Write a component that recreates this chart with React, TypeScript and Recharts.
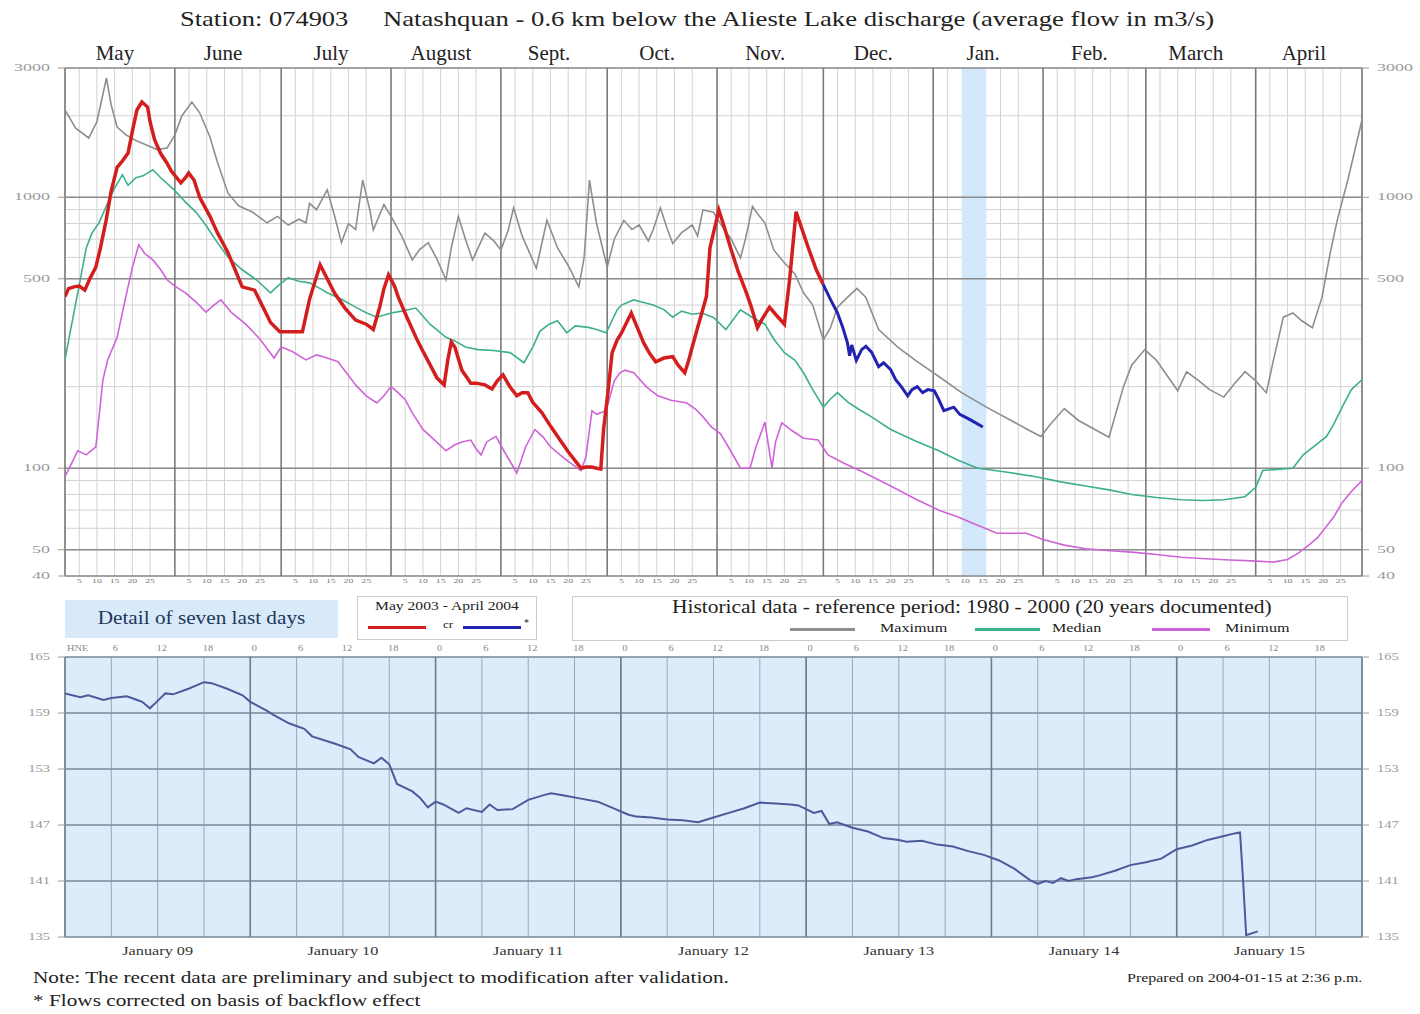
import {
  ComposedChart,
  Line,
  XAxis,
  YAxis,
  CartesianGrid,
  ReferenceLine,
  ReferenceArea,
} from "recharts";

const SERIF = '"Liberation Serif", "DejaVu Serif", serif';

// calendar, May 2003 - April 2004
const monthNames = ["May", "June", "July", "August", "Sept.", "Oct.", "Nov.", "Dec.", "Jan.", "Feb.", "March", "April"];
const monthDays = [31, 30, 31, 31, 30, 31, 30, 31, 31, 29, 31, 30];
const subDays = [5, 10, 15, 20, 25];

const flowTicks = [40, 50, 60, 70, 80, 90, 100, 200, 300, 400, 500, 600, 700, 800, 900, 1000, 2000, 3000];
const flowLabels = [40, 50, 100, 500, 1000, 3000];
const heavyFlows = [50, 100, 500, 1000];

// [day since May 1, flow m3/s]
const maxFlow: [number, number][] = [
  [0, 2100], [3, 1800], [6.7, 1656], [9, 1900], [11.7, 2755], [13, 2200], [14.7, 1817], [17.2, 1700],
  [20, 1620], [23, 1560], [26, 1500], [28.8, 1521], [31, 1700], [33, 2000], [35.8, 2247], [38, 2050],
  [40.9, 1670], [43, 1350], [46, 1035], [49, 930], [53, 880], [57, 805], [60, 850], [63, 790], [66, 830],
  [68, 805], [69, 950], [71, 900], [74, 1065], [76, 860], [78, 680], [80, 800], [82, 760], [84, 1158],
  [86, 900], [87, 757], [90, 940], [92, 850], [95, 720], [98, 587], [100, 640], [102.5, 680], [105, 590],
  [107.5, 496], [109, 650], [111, 850], [113, 700], [115, 587], [118.5, 737], [121, 690], [123, 639],
  [125, 750], [126.6, 914], [129, 720], [133, 547], [136, 822], [139, 650], [142, 560], [145, 467],
  [146.5, 600], [148, 1158], [150, 800], [153, 552], [155, 700], [157.7, 822], [160, 760], [162, 790],
  [164.6, 690], [166, 760], [168, 914], [170, 760], [171.5, 675], [174, 740], [177, 790], [178.5, 720],
  [180, 897], [183, 880], [186, 760], [188, 700], [190.6, 597], [192, 700], [194, 925], [196, 850],
  [197.5, 805], [200, 639], [203, 573], [206, 520], [208.4, 444], [211, 400], [214, 297], [216, 330],
  [218, 393], [221, 430], [223.5, 461], [226, 427], [229.6, 325], [235, 280], [240, 250], [246.6, 218],
  [253, 190], [260, 168], [267, 150], [272, 138], [275.4, 131], [278, 145], [282, 166], [286, 150],
  [291, 138], [294.6, 130], [298.7, 200], [301, 240], [304.7, 274], [308, 250], [311, 220], [314, 193],
  [316.5, 227], [320, 210], [323, 195], [327, 183], [330, 205], [333, 227], [336, 210], [339, 190],
  [341, 250], [343.8, 361], [346.5, 374], [349, 350], [352, 330], [354.7, 427], [357, 620], [359, 822],
  [362, 1158], [366, 1929],
];

const medianFlow: [number, number][] = [
  [0, 251], [1.5, 320], [2.5, 374], [4.5, 512], [6, 650], [7.6, 737], [9.6, 805], [12, 950], [13.7, 1065],
  [16.2, 1210], [17.8, 1107], [20, 1180], [22, 1200], [24.8, 1264], [27, 1180], [30.8, 1065], [34, 960],
  [37, 880], [40, 780], [43, 680], [46, 602], [50, 540], [54, 496], [58, 444], [60, 470], [63, 505],
  [66, 490], [69, 483], [72, 460], [74, 444], [78, 420], [82, 393], [85, 375], [88, 361], [92, 374],
  [95, 380], [99, 390], [103, 340], [107.5, 304], [110, 295], [113, 280], [116.5, 274], [121, 272],
  [125.6, 267], [129.5, 245], [132, 280], [134, 320], [136.6, 340], [139, 350], [141.6, 316], [144, 335],
  [147.7, 331], [150, 325], [152.7, 316], [155.8, 384], [157, 400], [160.5, 418], [163, 410], [166, 400],
  [169, 385], [171.5, 361], [174, 380], [177, 370], [179.7, 374], [183, 360], [186.5, 325], [190.6, 384],
  [194, 360], [197.5, 340], [200, 300], [203, 267], [206, 250], [208.4, 225], [211, 195], [214, 168],
  [216, 180], [218, 190], [221, 175], [224, 165], [227.5, 155], [233, 139], [240, 126], [246.6, 116],
  [252, 107], [257.6, 100], [265, 97], [274, 93], [281, 89], [288, 86], [295, 83], [301, 80], [308, 78],
  [315, 76.5], [321, 76], [327, 76.5], [333, 78.5], [336, 85], [338, 98], [342, 99], [346.5, 100],
  [349.4, 112], [353, 122], [356, 131], [358, 145], [360.4, 168], [363, 195], [366, 212],
];

const minFlow: [number, number][] = [
  [0, 93], [2, 105], [3.6, 116], [6, 112], [8.7, 120], [10.7, 212], [12, 250], [14.7, 304], [17, 420],
  [19, 550], [20.8, 667], [22.5, 620], [24.8, 587], [27, 540], [28.8, 496], [31, 470], [34, 444], [37, 410],
  [39.8, 377], [42, 400], [44, 418], [47, 375], [51, 340], [55, 300], [59, 255], [61, 280], [64, 270],
  [68, 251], [71, 262], [74, 255], [77, 247], [80, 220], [82, 203], [85, 185], [88, 174], [90, 185],
  [92, 200], [94, 190], [96, 179], [98, 160], [101, 139], [104, 128], [107.5, 116], [110, 122], [112, 125],
  [114.5, 127], [116, 118], [117.4, 112], [119, 125], [121.6, 131], [124, 115], [127.5, 96], [130, 120],
  [132.6, 139], [135, 130], [137, 120], [139.7, 112], [142, 106], [145.6, 98], [147, 110], [148.7, 163],
  [150, 158], [152.7, 163], [155, 210], [156.6, 225], [158, 230], [160.5, 225], [164, 200], [167.3, 185],
  [171, 178], [175.5, 174], [178, 165], [180, 155], [182.4, 142], [185, 134], [188, 115], [190.6, 100],
  [193.3, 100], [195, 120], [197.5, 148], [199.5, 100], [200.5, 125], [202.3, 147], [205, 138],
  [208.4, 129], [212.5, 127], [215.3, 112], [220, 104], [225, 97], [233, 86], [240, 77], [246.6, 70],
  [252, 66], [257, 62], [263, 57.5], [268, 57.5], [271.3, 57.5], [276, 54.5], [282, 52], [288, 50.4],
  [295, 49.6], [301, 49], [308, 48], [315, 46.9], [322, 46.3], [328.7, 45.8], [335, 45.5], [341, 45],
  [345, 46], [348, 48.6], [351, 52], [353.5, 55.5], [356, 61], [358, 66], [360.4, 74.6], [363, 82], [366, 90],
];

const flow0304: [number, number][] = [
  [0, 430], [1, 460], [2.5, 467], [4, 470], [5.6, 454], [7, 500], [8.7, 552], [10, 650], [11.6, 822],
  [13, 1050], [14.7, 1290], [16, 1350], [17.8, 1456], [19, 1750], [20.3, 2100], [21.7, 2247], [23.3, 2153],
  [24, 1900], [25.3, 1627], [27, 1450], [28.8, 1336], [30, 1250], [32.7, 1130], [34, 1180], [34.9, 1228],
  [36.4, 1158], [38, 1000], [40.9, 850], [43, 740], [46, 624], [48, 540], [50, 467], [53.5, 454], [56, 390],
  [58, 345], [60.6, 319], [64, 319], [67, 319], [69, 420], [72, 563], [74, 500], [76, 444], [79, 390],
  [82, 352], [85, 340], [87, 325], [88.8, 393], [90, 460], [91.3, 517], [93, 470], [94, 430], [96.5, 360],
  [99.4, 297], [101, 270], [103.3, 237], [105, 215], [107, 203], [108, 250], [109, 292], [110, 280],
  [112, 230], [114.5, 206], [116, 206], [118.5, 203], [120.5, 196], [122, 210], [123.6, 221], [125.5, 200],
  [127.5, 185], [129, 190], [130.6, 190], [132, 175], [134.6, 160], [137, 143], [139.7, 127], [142, 115],
  [145.6, 100], [147, 101], [148.7, 101], [150, 100], [151.2, 99.4], [152, 140], [153.2, 190], [154.4, 267],
  [155.8, 297], [157, 315], [159.8, 374], [161.5, 330], [163.3, 290], [165, 265], [166.7, 247], [169, 255],
  [171.5, 258], [173, 240], [174.9, 225], [176, 250], [177, 280], [178.5, 330], [179.7, 374], [181, 430],
  [182, 650], [184.5, 897], [186, 780], [188, 639], [190, 530], [192, 454], [193.5, 400], [195.4, 330],
  [197, 360], [198.8, 393], [200.5, 370], [203, 340], [204.5, 500], [206.3, 884], [208, 760], [209.7, 654],
  [212, 540], [213.9, 478],
];

const flowCorrected: [number, number][] = [
  [213.9, 478], [216, 420], [218, 374], [219.5, 330], [220.8, 290], [221.4, 260], [222, 285], [223.3, 250],
  [224.8, 274], [226, 282], [227.6, 268], [229.6, 237], [231, 245], [233, 231], [234.4, 212], [236, 200],
  [237.8, 185], [239, 195], [240.5, 200], [242, 190], [243.5, 195], [245.3, 193], [246.5, 180], [248, 163],
  [250.8, 168], [252.5, 158], [255, 152], [257, 147], [259, 142],
];

// detail, hours since January 9 00:00
const detailFlow: [number, number][] = [
  [0, 161.1], [2, 160.7], [3, 160.9], [5, 160.4], [6, 160.6], [8, 160.8], [9, 160.5], [10, 160.2], [11, 159.5],
  [12, 160.3], [13, 161.1], [14, 161.0], [16, 161.6], [18, 162.3], [19, 162.2], [21, 161.6], [23, 160.9],
  [24, 160.2], [26, 159.3], [27, 158.8], [29, 157.9], [31, 157.3], [32, 156.5], [35, 155.7], [37, 155.1],
  [38, 154.3], [40, 153.6], [41, 154.2], [42, 153.5], [43, 151.4], [45, 150.6], [46, 149.9], [47, 148.9],
  [48, 149.5], [49, 149.2], [51, 148.3], [52, 148.8], [54, 148.4], [55, 149.2], [56, 148.6], [58, 148.7],
  [60, 149.7], [62, 150.2], [63, 150.4], [65, 150.1], [67, 149.8], [69, 149.5], [71, 148.8], [73, 148.1],
  [74, 147.9], [76, 147.8], [78, 147.6], [80, 147.5], [82, 147.3], [84, 147.8], [86, 148.3], [88, 148.8],
  [90, 149.4], [92, 149.3], [94, 149.2], [95, 149.1], [96, 148.7], [97, 148.3], [98, 148.5], [99, 147.1],
  [100, 147.3], [102, 146.7], [104, 146.3], [106, 145.6], [108, 145.4], [109, 145.2], [111, 145.3],
  [113, 144.9], [115, 144.7], [117, 144.2], [119, 143.8], [121, 143.2], [123, 142.3], [125, 141.1],
  [126, 140.7], [127, 141.0], [128, 140.8], [129, 141.3], [130, 141.0], [131, 141.2], [133, 141.4],
  [134, 141.6], [136, 142.1], [138, 142.7], [140, 143.0], [142, 143.4], [144, 144.4], [146, 144.8],
  [148, 145.4], [150, 145.8], [151.5, 146.1], [152.2, 146.2], [152.6, 141], [153, 135.2], [154.5, 135.6],
];
const detailTicks = [135, 141, 147, 153, 159, 165];
const detailDays = ["January 09", "January 10", "January 11", "January 12", "January 13", "January 14", "January 15"];

const toPts = (arr: [number, number][]) => arr.map(([d, q]) => ({ d, q }));

const monthStarts = monthDays.reduce<number[]>((acc, n, i) => [...acc, acc[i] + n], [0]);
const totalDays = monthStarts[monthStarts.length - 1];
const monthMids = monthDays.map((n, i) => monthStarts[i] + n / 2);
const subTicks = monthStarts.slice(0, -1).flatMap((s) => subDays.map((k) => s + k - 1));
const hourTicks = Array.from({ length: 29 }, (_, i) => i * 6);
const dayBounds = Array.from({ length: 8 }, (_, i) => i * 24);
const dayMids = detailDays.map((_, i) => i * 24 + 12);

// the original's lettering is wider than Liberation Serif, so texts get stretched sideways
const wide = (x: number, y: number, k: number) => `translate(${x},${y}) scale(${k},1)`;

const sideTick = (right: boolean) => (p: any) => {
  const v = p.payload.value;
  const isFlow = flowLabels.includes(v);
  if (!isFlow && !detailTicks.includes(v)) return <g />;
  const k = v >= 135 && v <= 165 && !isFlow ? 1.45 : 1.8;
  return (
    <g>
      <line x1={right ? p.x - 8 : p.x + 1} x2={right ? p.x - 1 : p.x + 8} y1={p.y} y2={p.y} stroke="#9a9a9a" />
      <text transform={wide(right ? p.x + 7 : p.x - 7, p.y + 3, k)} textAnchor={right ? "start" : "end"}
        fontSize={10} fill="#9a9a9a" fontFamily={SERIF}>
        {v}
      </text>
    </g>
  );
};
const LeftTick = sideTick(false);
const RightTick = sideTick(true);

const MonthTick = (p: any) => {
  const i = monthMids.indexOf(p.payload.value);
  return (
    <text x={p.x - 5} y={p.y} textAnchor="middle" fontSize={21} fill="#222" fontFamily={SERIF}>
      {monthNames[i]}
    </text>
  );
};

const DayNumTick = (p: any) => {
  const d = p.payload.value;
  const m = monthStarts.filter((s) => s <= d).pop() ?? 0;
  return (
    <text transform={wide(p.x, p.y - 1, 1.4)} textAnchor="middle" fontSize={7} fill="#777" fontFamily={SERIF}>
      {d - m + 1}
    </text>
  );
};

const HourTick = (p: any) => {
  const h = p.payload.value;
  if (h >= 168) return <g />;
  return (
    <text transform={wide(h === 0 ? p.x + 2 : p.x + 4, p.y + 2, 1.3)} textAnchor={h === 0 ? "start" : "middle"}
      fontSize={8} fill="#888" fontFamily={SERIF}>
      {h === 0 ? "HNE" : h % 24}
    </text>
  );
};

const DayTick = (p: any) => {
  const i = dayMids.indexOf(p.payload.value);
  return (
    <text transform={wide(p.x, p.y + 10, 1.25)} textAnchor="middle" fontSize={13} fill="#333" fontFamily={SERIF}>
      {detailDays[i]}
    </text>
  );
};

function Txt({ left, top, size, k, children, origin = "left", style = {} }: any) {
  return (
    <div
      style={{
        position: "absolute",
        left,
        top,
        whiteSpace: "nowrap",
        fontFamily: SERIF,
        fontSize: size,
        color: "#222",
        transform: `scaleX(${k})`,
        transformOrigin: origin,
        ...style,
      }}
    >
      {children}
    </div>
  );
}

function Swatch({ left, top, w, color }: { left: number; top: number; w: number; color: string }) {
  return <div style={{ position: "absolute", left, top, width: w, height: 3, background: color }} />;
}

export default function App() {
  return (
    <div style={{ position: "absolute", left: 0, top: 0, width: 1420, height: 1014, background: "#fff", fontFamily: SERIF }}>
      <Txt left={180} top={7} size={21} k={1.26}>Station: 074903</Txt>
      <Txt left={383} top={7} size={21} k={1.27}>
        Natashquan - 0.6 km below the Alieste Lake discharge (average flow in m3/s)
      </Txt>

      <div style={{ position: "absolute", left: 0, top: 0 }}>
        <ComposedChart width={1420} height={600} margin={{ top: 38, right: 0, bottom: 0, left: 0 }}>
          <XAxis xAxisId="b" type="number" dataKey="d" domain={[0, totalDays]} ticks={subTicks} interval={0}
            tick={DayNumTick} tickLine={false} axisLine={false} height={24} allowDataOverflow />
          <XAxis xAxisId="t" orientation="top" type="number" dataKey="d" domain={[0, totalDays]} ticks={monthMids}
            interval={0} tick={MonthTick} tickLine={false} axisLine={false} height={30} allowDataOverflow />
          <YAxis yAxisId="l" scale="log" domain={[40, 3000]} ticks={flowTicks} interval={0} allowDataOverflow
            width={65} tick={LeftTick} tickLine={false} axisLine={false} />
          <YAxis yAxisId="r" orientation="right" scale="log" domain={[40, 3000]} ticks={flowTicks} interval={0}
            allowDataOverflow width={58} tick={RightTick} tickLine={false} axisLine={false} />
          <CartesianGrid xAxisId="b" yAxisId="l" stroke="#d2d2d2" strokeWidth={1} />
          <ReferenceArea xAxisId="b" yAxisId="l" x1={253} x2={260} y1={40} y2={3000} fill="#d3e8fb" fillOpacity={1} stroke="none" />
          {heavyFlows.map((v) => (
            <ReferenceLine key={"h" + v} xAxisId="b" yAxisId="l" y={v} stroke="#8c8c8c" strokeWidth={1.6} />
          ))}
          {[40, 3000].map((v) => (
            <ReferenceLine key={"e" + v} xAxisId="b" yAxisId="l" y={v} stroke="#8c8c8c" strokeWidth={1.6} />
          ))}
          {monthStarts.map((s) => (
            <ReferenceLine key={"m" + s} xAxisId="b" yAxisId="l" x={s} stroke="#7a7a7a" strokeWidth={1.6} />
          ))}
          <Line xAxisId="b" yAxisId="l" data={toPts(maxFlow)} dataKey="q" type="linear" stroke="#8e8e8e" strokeWidth={1.6} dot={false} isAnimationActive={false} />
          <Line xAxisId="b" yAxisId="l" data={toPts(medianFlow)} dataKey="q" type="linear" stroke="#3daf8a" strokeWidth={1.6} dot={false} isAnimationActive={false} />
          <Line xAxisId="b" yAxisId="l" data={toPts(minFlow)} dataKey="q" type="linear" stroke="#cf63d8" strokeWidth={1.6} dot={false} isAnimationActive={false} />
          <Line xAxisId="b" yAxisId="l" data={toPts(flow0304)} dataKey="q" type="linear" stroke="#d41e1e" strokeWidth={3.5} dot={false} isAnimationActive={false} />
          <Line xAxisId="b" yAxisId="l" data={toPts(flowCorrected)} dataKey="q" type="linear" stroke="#2222b0" strokeWidth={3} dot={false} isAnimationActive={false} />
        </ComposedChart>
      </div>

      {/* legend row */}
      <div style={{ position: "absolute", left: 65, top: 600, width: 273, height: 38, background: "#d8eafa" }} />
      <Txt left={65} top={608} size={18} k={1.18} origin="center" style={{ width: 273, textAlign: "center", color: "#22375a" }}>
        Detail of seven last days
      </Txt>

      <div style={{ position: "absolute", left: 357, top: 596, width: 180, height: 44, border: "1px solid #ccc", boxSizing: "border-box" }} />
      <Txt left={357} top={599} size={12} k={1.3} origin="center" style={{ width: 180, textAlign: "center" }}>
        May 2003 - April 2004
      </Txt>
      <Swatch left={368} top={626} w={58} color="#d41e1e" />
      <Txt left={443} top={619} size={10} k={1.3}>cr</Txt>
      <Swatch left={463} top={626} w={58} color="#2222b0" />
      <Txt left={524} top={617} size={10} k={1}>*</Txt>

      <div style={{ position: "absolute", left: 572, top: 596, width: 776, height: 45, border: "1px solid #ccc", boxSizing: "border-box" }} />
      <Txt left={672} top={597} size={18} k={1.19}>
        Historical data - reference period: 1980 - 2000 (20 years documented)
      </Txt>
      <Swatch left={790} top={628} w={65} color="#8e8e8e" />
      <Txt left={880} top={620} size={13} k={1.24}>Maximum</Txt>
      <Swatch left={975} top={628} w={65} color="#3daf8a" />
      <Txt left={1052} top={620} size={13} k={1.24}>Median</Txt>
      <Swatch left={1152} top={628} w={58} color="#cf63d8" />
      <Txt left={1225} top={620} size={13} k={1.24}>Minimum</Txt>

      <div style={{ position: "absolute", left: 0, top: 627 }}>
        <ComposedChart width={1420} height={338} margin={{ top: 10, right: 0, bottom: 0, left: 0 }}>
          <XAxis xAxisId="t" orientation="top" type="number" dataKey="d" domain={[0, 168]} ticks={hourTicks}
            interval={0} tick={HourTick} tickLine={false} axisLine={false} height={20} allowDataOverflow />
          <XAxis xAxisId="b" type="number" dataKey="d" domain={[0, 168]} ticks={dayMids} interval={0}
            tick={DayTick} tickLine={false} axisLine={false} height={28} allowDataOverflow />
          <YAxis yAxisId="l" domain={[135, 165]} ticks={detailTicks} interval={0} width={65} tick={LeftTick}
            tickLine={false} axisLine={false} allowDataOverflow />
          <YAxis yAxisId="r" orientation="right" domain={[135, 165]} ticks={detailTicks} interval={0} width={58}
            tick={RightTick} tickLine={false} axisLine={false} allowDataOverflow />
          <CartesianGrid xAxisId="t" yAxisId="l" fill="#ddecfa" fillOpacity={1} stroke="#9aa8b8" strokeWidth={1} />
          {detailTicks.map((v) => (
            <ReferenceLine key={"y" + v} xAxisId="t" yAxisId="l" y={v} stroke="#8593a3" strokeWidth={1.6} />
          ))}
          {dayBounds.map((h) => (
            <ReferenceLine key={"x" + h} xAxisId="t" yAxisId="l" x={h} stroke="#6f7d8c" strokeWidth={1.6} />
          ))}
          <Line xAxisId="t" yAxisId="l" data={toPts(detailFlow)} dataKey="q" type="linear" stroke="#4a5a9c" strokeWidth={2} dot={false} isAnimationActive={false} />
        </ComposedChart>
      </div>

      <Txt left={33} top={968} size={17} k={1.25}>
        Note: The recent data are preliminary and subject to modification after validation.
      </Txt>
      <Txt left={33} top={991} size={17} k={1.25}>* Flows corrected on basis of backflow effect</Txt>
      <Txt left={1127} top={971} size={12} k={1.33}>Prepared on 2004-01-15 at 2:36 p.m.</Txt>
    </div>
  );
}
